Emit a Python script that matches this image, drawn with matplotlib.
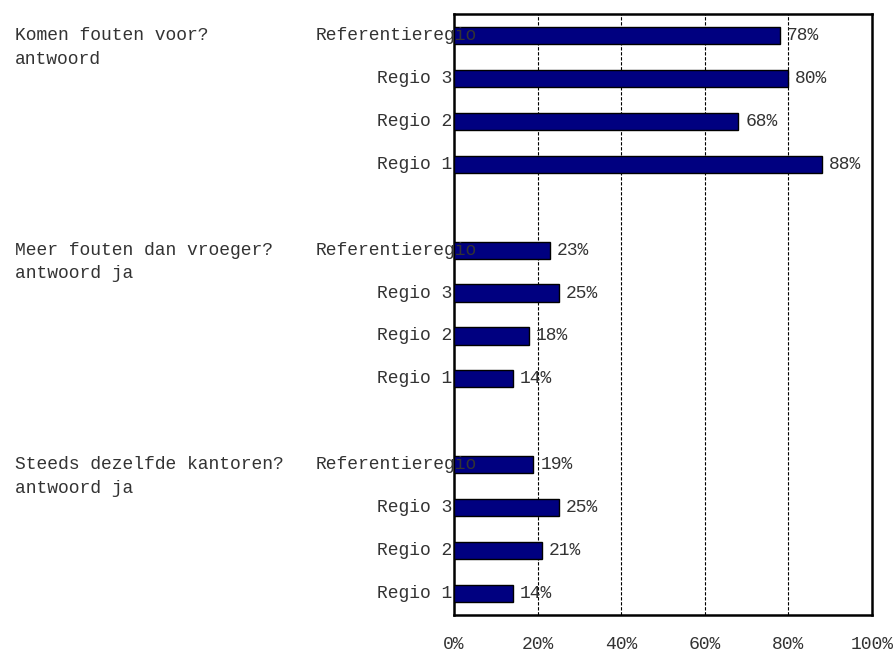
import matplotlib.pyplot as plt
import numpy as np

plt.rcParams['font.family'] = ['Liberation Mono', 'DejaVu Sans Mono']

# data
questions = ["Komen fouten voor?", "Meer fouten dan vroeger?", "Steeds dezelfde kantoren?"]
answers = ["antwoord", "antwoord ja", "antwoord ja"]
regions = ["Referentieregio", "Regio 3", "Regio 2", "Regio 1"]
komen = [78, 80, 68, 88]
meer = [23, 25, 18, 14]
steeds = [19, 25, 21, 14]
ticks = [0, 20, 40, 60, 80, 100]

values = [komen, meer, steeds]

fig = plt.figure(figsize=(8.95, 6.52), dpi=100)
ax = fig.add_axes([454/895, 1-615/652, 418/895, 601/652])

fs = 13
tc = '#333333'
for g, vals in enumerate(values):
    for r, v in enumerate(vals):
        y = g*5 + r
        ax.barh(y, v, height=0.4, color='#000080', edgecolor='black', linewidth=1, zorder=3)
        ax.annotate(f"{v}%", (v, y), xytext=(5, 0), textcoords='offset points',
                    ha='left', va='center', fontsize=fs, color=tc, zorder=4)
        if r == 0:
            ax.annotate(regions[r], xy=(316/895, y), xycoords=('figure fraction', 'data'),
                        ha='left', va='center', fontsize=fs, color=tc, zorder=5)
        else:
            ax.annotate(regions[r], xy=(0, y), xycoords=('axes fraction', 'data'),
                        xytext=(-1, 0), textcoords='offset points',
                        ha='right', va='center', fontsize=fs, color=tc)
    y0 = g*5
    ax.annotate(questions[g], xy=(15/895, y0), xycoords=('figure fraction', 'data'),
                ha='left', va='center', fontsize=fs, color=tc)
    ax.annotate(answers[g], xy=(15/895, y0), xycoords=('figure fraction', 'data'),
                xytext=(0, -17), textcoords='offset points',
                ha='left', va='center', fontsize=fs, color=tc)

ax.set_xlim(0, 100)
ax.set_ylim(13.5, -0.5)
ax.set_yticks([])
ax.set_xticks(ticks)
ax.set_xticklabels([f"{t}%" for t in ticks], fontsize=fs, color=tc)
ax.tick_params(axis='x', length=0, pad=15)
for t in ticks[1:-1]:
    ax.axvline(t, color='black', linestyle=(0, (3, 1.5)), linewidth=0.8, zorder=1)
for s in ax.spines.values():
    s.set_linewidth(1.8)
    s.set_color('black')

fig.savefig('out.png', dpi=100)
